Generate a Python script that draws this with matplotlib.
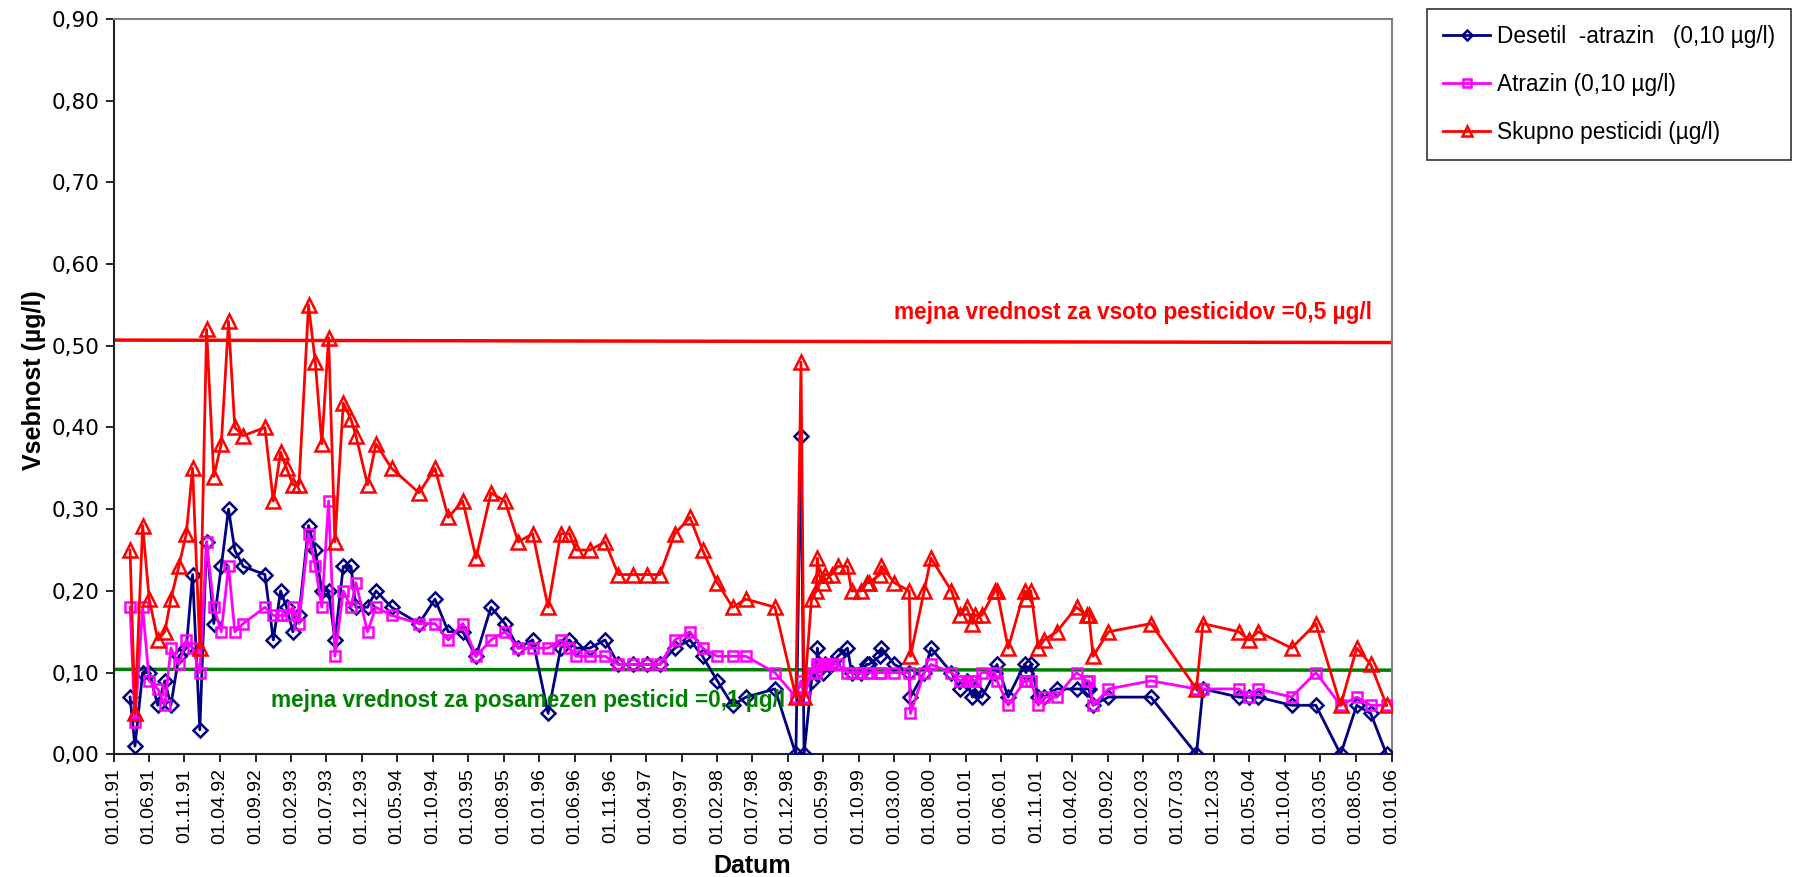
import datetime as dt

import matplotlib
matplotlib.use("Agg")
import matplotlib.pyplot as plt
import matplotlib.dates as mdates
import matplotlib.transforms as mtransforms
from matplotlib.ticker import FuncFormatter, FixedLocator

# Sampling dates
dates = [
    "1991-03-13", "1991-04-03", "1991-05-06", "1991-06-03", "1991-07-10", "1991-08-09", "1991-09-04", "1991-10-08", "1991-11-09", "1991-12-06",
    "1992-01-06", "1992-02-04", "1992-03-06", "1992-04-07", "1992-05-08", "1992-06-04", "1992-07-10", "1992-10-11", "1992-11-16", "1992-12-17",
    "1993-01-12", "1993-02-08", "1993-03-06", "1993-04-16", "1993-05-15", "1993-06-12", "1993-07-11", "1993-08-07", "1993-09-12", "1993-10-15",
    "1993-11-05", "1993-12-25", "1994-01-30", "1994-04-07", "1994-08-03", "1994-10-10", "1994-12-06", "1995-02-06", "1995-04-04", "1995-06-07",
    "1995-08-06", "1995-10-02", "1995-12-03", "1996-02-07", "1996-04-01", "1996-05-08", "1996-06-05", "1996-08-04", "1996-10-08", "1996-12-04",
    "1997-02-03", "1997-04-04", "1997-05-31", "1997-08-03", "1997-10-07", "1997-11-30", "1998-02-01", "1998-04-08", "1998-06-04", "1998-10-06",
    "1999-01-04", "1999-01-26", "1999-02-08", "1999-03-12", "1999-04-02", "1999-04-06", "1999-04-13", "1999-04-30", "1999-05-08", "1999-06-06",
    "1999-07-03", "1999-08-13", "1999-08-31", "1999-10-10", "1999-11-03", "1999-11-13", "1999-12-30", "2000-01-06", "2000-03-01", "2000-05-04",
    "2000-05-09", "2000-07-07", "2000-08-05", "2000-11-01", "2000-12-07", "2001-01-05", "2001-01-30", "2001-02-09", "2001-03-11", "2001-05-06",
    "2001-05-15", "2001-07-02", "2001-09-10", "2001-09-16", "2001-10-07", "2001-11-08", "2001-12-03", "2002-01-26", "2002-04-21", "2002-06-03",
    "2002-06-13", "2002-07-01", "2002-09-05", "2003-03-06", "2003-09-17", "2003-10-15", "2004-03-17", "2004-04-29", "2004-06-08", "2004-10-29",
    "2005-02-10", "2005-05-27", "2005-08-04", "2005-10-03", "2005-12-10",
]

# Desetil-atrazin (µg/l)
desetil = [
    0.07, 0.01, 0.10, 0.10, 0.06, 0.09, 0.06, 0.12, 0.13, 0.22,
    0.03, 0.26, 0.16, 0.23, 0.30, 0.25, 0.23, 0.22, 0.14, 0.20,
    0.18, 0.15, 0.17, 0.28, 0.25, 0.20, 0.20, 0.14, 0.23, 0.23,
    0.18, 0.18, 0.20, 0.18, 0.16, 0.19, 0.15, 0.15, 0.12, 0.18,
    0.16, 0.13, 0.14, 0.05, 0.13, 0.14, 0.13, 0.13, 0.14, 0.11,
    0.11, 0.11, 0.11, 0.13, 0.14, 0.12, 0.09, 0.06, 0.07, 0.08,
    0.00, 0.39, 0.00, 0.09, 0.10, 0.13, 0.11, 0.10, 0.11, 0.11,
    0.12, 0.13, 0.10, 0.10, 0.11, 0.11, 0.12, 0.13, 0.11, 0.10,
    0.07, 0.10, 0.13, 0.10, 0.08, 0.09, 0.07, 0.08, 0.07, 0.10,
    0.11, 0.07, 0.11, 0.10, 0.11, 0.07, 0.07, 0.08, 0.08, 0.08,
    0.08, 0.06, 0.07, 0.07, 0.00, 0.08, 0.07, 0.07, 0.07, 0.06,
    0.06, 0.00, 0.06, 0.05, 0.00,
]

# Atrazin (µg/l)
atrazin = [
    0.18, 0.04, 0.18, 0.09, 0.08, 0.06, 0.13, 0.11, 0.14, 0.13,
    0.10, 0.26, 0.18, 0.15, 0.23, 0.15, 0.16, 0.18, 0.17, 0.17,
    0.17, 0.18, 0.16, 0.27, 0.23, 0.18, 0.31, 0.12, 0.20, 0.18,
    0.21, 0.15, 0.18, 0.17, 0.16, 0.16, 0.14, 0.16, 0.12, 0.14,
    0.15, 0.13, 0.13, 0.13, 0.14, 0.13, 0.12, 0.12, 0.12, 0.11,
    0.11, 0.11, 0.11, 0.14, 0.15, 0.13, 0.12, 0.12, 0.12, 0.10,
    0.07, 0.09, 0.07, 0.10, 0.10, 0.11, 0.11, 0.11, 0.11, 0.11,
    0.11, 0.10, 0.10, 0.10, 0.10, 0.10, 0.10, 0.10, 0.10, 0.10,
    0.05, 0.10, 0.11, 0.10, 0.09, 0.09, 0.09, 0.09, 0.10, 0.10,
    0.09, 0.06, 0.09, 0.09, 0.09, 0.06, 0.07, 0.07, 0.10, 0.09,
    0.09, 0.06, 0.08, 0.09, 0.08, 0.08, 0.08, 0.07, 0.08, 0.07,
    0.10, 0.06, 0.07, 0.06, 0.06,
]

# Skupno pesticidi (µg/l)
skupno = [
    0.25, 0.05, 0.28, 0.19, 0.14, 0.15, 0.19, 0.23, 0.27, 0.35,
    0.13, 0.52, 0.34, 0.38, 0.53, 0.40, 0.39, 0.40, 0.31, 0.37,
    0.35, 0.33, 0.33, 0.55, 0.48, 0.38, 0.51, 0.26, 0.43, 0.41,
    0.39, 0.33, 0.38, 0.35, 0.32, 0.35, 0.29, 0.31, 0.24, 0.32,
    0.31, 0.26, 0.27, 0.18, 0.27, 0.27, 0.25, 0.25, 0.26, 0.22,
    0.22, 0.22, 0.22, 0.27, 0.29, 0.25, 0.21, 0.18, 0.19, 0.18,
    0.07, 0.48, 0.07, 0.19, 0.20, 0.24, 0.22, 0.21, 0.22, 0.22,
    0.23, 0.23, 0.20, 0.20, 0.21, 0.21, 0.22, 0.23, 0.21, 0.20,
    0.12, 0.20, 0.24, 0.20, 0.17, 0.18, 0.16, 0.17, 0.17, 0.20,
    0.20, 0.13, 0.20, 0.19, 0.20, 0.13, 0.14, 0.15, 0.18, 0.17,
    0.17, 0.12, 0.15, 0.16, 0.08, 0.16, 0.15, 0.14, 0.15, 0.13,
    0.16, 0.06, 0.13, 0.11, 0.06,
]

series_labels = [
    "Desetil  -atrazin   (0,10 µg/l)",
    "Atrazin (0,10 µg/l)",
    "Skupno pesticidi (µg/l)",
]

limit_sum = 0.5
limit_single = 0.1
limit_sum_label = "mejna vrednost za vsoto pesticidov =0,5 µg/l"
limit_single_label = "mejna vrednost za posamezen pesticid =0,1 µg/l"

x_start = dt.date(1991, 1, 1)
x_end = dt.date(2006, 1, 1)
y_ticks = [0.0, 0.1, 0.2, 0.3, 0.4, 0.5, 0.6, 0.7, 0.8, 0.9]

plt.rcParams["font.family"] = ["Liberation Sans", "DejaVu Sans"]
narrow = ["Liberation Sans Narrow", "DejaVu Sans Condensed", "Liberation Sans"]

W, H = 1801, 877
fig = plt.figure(figsize=(W / 100, H / 100), dpi=100)
ax = fig.add_axes([113.5 / W, 1 - 754.3 / H, (1391.7 - 113.5) / W, (754.3 - 19.0) / H])

x = [dt.datetime.strptime(d, "%Y-%m-%d") for d in dates]

ax.plot(x, desetil, color="#000080", lw=2.0, marker="D", ms=7.5,
        mfc="none", mec="#000080", mew=1.8, label=series_labels[0], zorder=3)
ax.plot(x, atrazin, color="#FF00FF", lw=2.0, marker="s", ms=7.5,
        mfc="none", mec="#FF00FF", mew=1.8, label=series_labels[1], zorder=4)
ax.plot(x, skupno, color="#FF0000", lw=2.0, marker="^", ms=10.5,
        mfc="none", mec="#FF0000", mew=1.8, label=series_labels[2], zorder=5)

# Limit lines
ax.plot([x_start, x_end], [limit_sum + 0.007, limit_sum + 0.004], color="#FF0000", lw=2.5, zorder=2)
ax.plot([x_start, x_end], [limit_single + 0.004, limit_single + 0.003], color="#008000", lw=2.5, zorder=2)

blend = mtransforms.blended_transform_factory(ax.transAxes, ax.transData)
ax.text(0.9846, 0.541, limit_sum_label, transform=blend,
        color="#FF0000", fontsize=16.3, fontweight="bold", ha="right", va="center")
ax.text(0.1232, 0.0657, limit_single_label, transform=blend,
        color="#008000", fontsize=16.3, fontweight="bold", ha="left", va="center", zorder=6)

# Axes
ax.set_xlim(x_start, x_end)
ax.set_ylim(0, 0.9)

tick_dates = []
m = 0
while True:
    yy = 1991 + m // 12
    mm = 1 + m % 12
    d = dt.date(yy, mm, 1)
    if d > x_end:
        break
    tick_dates.append(d)
    m += 5
ax.xaxis.set_major_locator(FixedLocator(mdates.date2num(tick_dates)))
ax.xaxis.set_major_formatter(mdates.DateFormatter("%d.%m.%y"))
ax.yaxis.set_major_locator(FixedLocator(y_ticks))
ax.yaxis.set_major_formatter(FuncFormatter(lambda v, p: f"{v:.2f}".replace(".", ",")))

ax.tick_params(axis="x", direction="out", length=6, width=1.2, labelsize=14,
               labelrotation=90, pad=4, colors="black")
ax.tick_params(axis="y", direction="out", length=6, width=1.2, labelsize=15.5, pad=4)
for lbl in ax.get_yticklabels():
    lbl.set_family(["DejaVu Sans"])

for side in ("left", "bottom"):
    ax.spines[side].set_color("#222222")
    ax.spines[side].set_linewidth(1.5)
for side in ("top", "right"):
    ax.spines[side].set_color("#808080")
    ax.spines[side].set_linewidth(1.5)

fig.text(34 / W, 1 - 380 / H, "Vsebnost (µg/l)", rotation=90, ha="center", va="center",
         fontsize=18, fontweight="bold", family=narrow)
fig.text(752.6 / W, 1 - 866 / H, "Datum", ha="center", va="center",
         fontsize=18, fontweight="bold", family=narrow)

leg = fig.legend(loc="upper left", bbox_to_anchor=(1427 / W, 1 - 9 / H),
                 fontsize=16.3, frameon=True, fancybox=False, edgecolor="black",
                 handlelength=2.1, handletextpad=0.3, borderpad=0.7, labelspacing=1.1,
                 borderaxespad=0)
leg.get_frame().set_linewidth(1.2)
for h in leg.legend_handles:
    h.set_markersize(h.get_markersize() * 0.7)

fig.savefig("out.png", dpi=100, facecolor="white")
